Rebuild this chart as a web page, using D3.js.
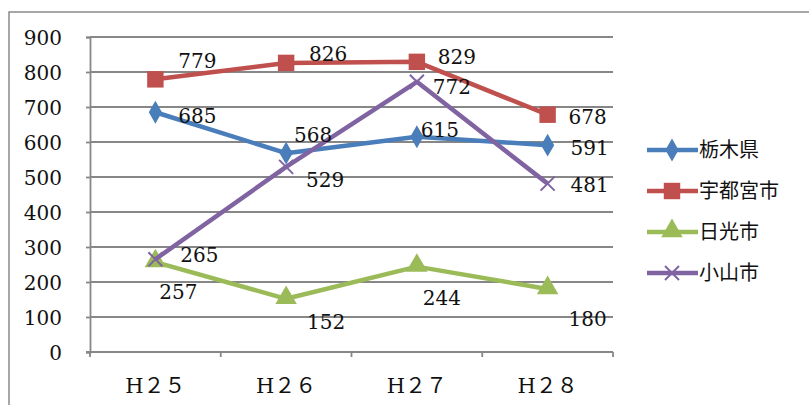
<!DOCTYPE html>
<html>
<head>
<meta charset="utf-8">
<script src="https://cdn.jsdelivr.net/npm/d3@7"></script>
<style>
  body { margin: 0; background: #fff; }
  svg { display: block; }
  .num { font-family: "DejaVu Serif", serif; font-size: 20px; fill: #111; }
  .cat { font-family: "DejaVu Serif", "Noto Sans CJK JP", serif; font-size: 21px; fill: #111; }
  .leg { font-family: "Noto Sans CJK JP", sans-serif; font-size: 20px; fill: #111; }
</style>
</head>
<body>
<div id="chart"></div>
<script>
// data
var years = ["H２５", "H２６", "H２７", "H２８"];
var names = ["栃木県", "宇都宮市", "日光市", "小山市"];
var tochigi = [685, 568, 615, 591];
var utsunomiya = [779, 826, 829, 678];
var nikko = [257, 152, 244, 180];
var oyama = [265, 529, 772, 481];
var yTicks = [0, 100, 200, 300, 400, 500, 600, 700, 800, 900];

var colors = ["#4a7ebb", "#c0504d", "#9bbb59", "#8064a2"];
var shapes = ["diamond", "square", "triangle", "cross"];
// label nudges (px) relative to each point, as placed in the original
var labelShift = [
  [[42, 4], [27, -18], [23, -7], [42, 3]],
  [[42, -19], [42, -9], [40, -5], [40, 2]],
  [[23, 30], [40, 23], [25, 31], [40, 30]],
  [[44, -4], [39, 13], [35, 5], [42, 1]]
];

var series = [tochigi, utsunomiya, nikko, oyama];

var svg = d3.select("#chart").append("svg").attr("width", 809).attr("height", 405);

// outer chart frame
svg.append("rect").attr("x", 9).attr("y", 12).attr("width", 820).attr("height", 420)
  .attr("fill", "none").attr("stroke", "#8a8a8a").attr("stroke-width", 1.5);

var x = d3.scaleBand().domain(years).range([90, 613]).paddingInner(0).paddingOuter(0);
var y = d3.scaleLinear().domain([0, 900]).range([352, 37]);
var cx = function(i){ return x(years[i]) + x.bandwidth() / 2; };

// gridlines
svg.append("g").selectAll("line").data(yTicks.filter(d => d > 0)).join("line")
  .attr("x1", 90).attr("x2", x.range()[1])
  .attr("y1", d => y(d)).attr("y2", d => y(d))
  .attr("stroke", "#878787").attr("stroke-width", 1.8);

// y axis
var yAxis = svg.append("g").attr("transform", "translate(90,0)")
  .call(d3.axisLeft(y).tickValues(yTicks).tickSize(4).tickPadding(24).tickFormat(d3.format("d")));
yAxis.select(".domain").attr("stroke", "#878787").attr("stroke-width", 1.8);
yAxis.selectAll(".tick line").attr("stroke", "#878787").attr("stroke-width", 1.8);
yAxis.selectAll("text").attr("class", "num").attr("fill", null).attr("font-size", null)
  .attr("font-family", null).attr("dy", "0.36em");

// x axis: ticks at category boundaries, labels at centres
var xb = svg.append("g");
xb.append("line").attr("x1", 86).attr("x2", x.range()[1]).attr("y1", y(0)).attr("y2", y(0))
  .attr("stroke", "#878787").attr("stroke-width", 1.8);
xb.selectAll(".bt").data(years.concat(["end"])).join("line").attr("class", "bt")
  .attr("x1", (d, i) => i < years.length ? x(d) : x.range()[1])
  .attr("x2", (d, i) => i < years.length ? x(d) : x.range()[1])
  .attr("y1", y(0)).attr("y2", y(0) + 5)
  .attr("stroke", "#878787").attr("stroke-width", 1.8);
xb.selectAll(".cat").data(years).join("text").attr("class", "cat")
  .attr("x", (d, i) => cx(i)).attr("y", 393).attr("text-anchor", "middle").text(d => d);

function drawMarker(g, shape, color, px, py){
  if (shape === "diamond") {
    g.append("path").attr("d", d3.symbol(d3.symbolDiamond, 150)()).attr("transform", "translate(" + px + "," + py + ")").attr("fill", color);
  } else if (shape === "square") {
    g.append("path").attr("d", d3.symbol(d3.symbolSquare, 270)()).attr("transform", "translate(" + px + "," + py + ")").attr("fill", color);
  } else if (shape === "triangle") {
    g.append("path").attr("d", d3.symbol(d3.symbolTriangle, 200)()).attr("transform", "translate(" + px + "," + (py - 1) + ")").attr("fill", color);
  } else {
    g.append("path").attr("d", "M-7,-7L7,7M-7,7L7,-7").attr("transform", "translate(" + px + "," + py + ")")
      .attr("stroke", color).attr("stroke-width", 2).attr("fill", "none");
  }
}

var line = d3.line().x((d, i) => cx(i)).y(d => y(d));

series.forEach(function(vals, s){
  var g = svg.append("g");
  g.append("path").datum(vals).attr("d", line).attr("fill", "none")
    .attr("stroke", colors[s]).attr("stroke-width", 4.5).attr("stroke-linejoin", "round");
  vals.forEach(function(v, i){ drawMarker(g, shapes[s], colors[s], cx(i), y(v)); });
});

// data labels on top
series.forEach(function(vals, s){
  svg.append("g").selectAll("text").data(vals).join("text").attr("class", "num")
    .attr("x", (d, i) => cx(i) + labelShift[s][i][0])
    .attr("y", (d, i) => y(d) + labelShift[s][i][1])
    .attr("dy", "0.36em").attr("text-anchor", "middle").text(d => d);
});

// legend
var leg = svg.append("g").selectAll("g").data(names).join("g")
  .attr("transform", (d, i) => "translate(647," + (150 + i * 41) + ")");
leg.append("line").attr("x1", 0).attr("x2", 51).attr("y1", 0).attr("y2", 0)
  .attr("stroke", (d, i) => colors[i]).attr("stroke-width", 4.5);
leg.each(function(d, i){ drawMarker(d3.select(this), shapes[i], colors[i], 25, 0); });
leg.append("text").attr("class", "leg").attr("x", 52).attr("y", 0).attr("dy", "0.36em").text(d => d);
</script>
</body>
</html>
